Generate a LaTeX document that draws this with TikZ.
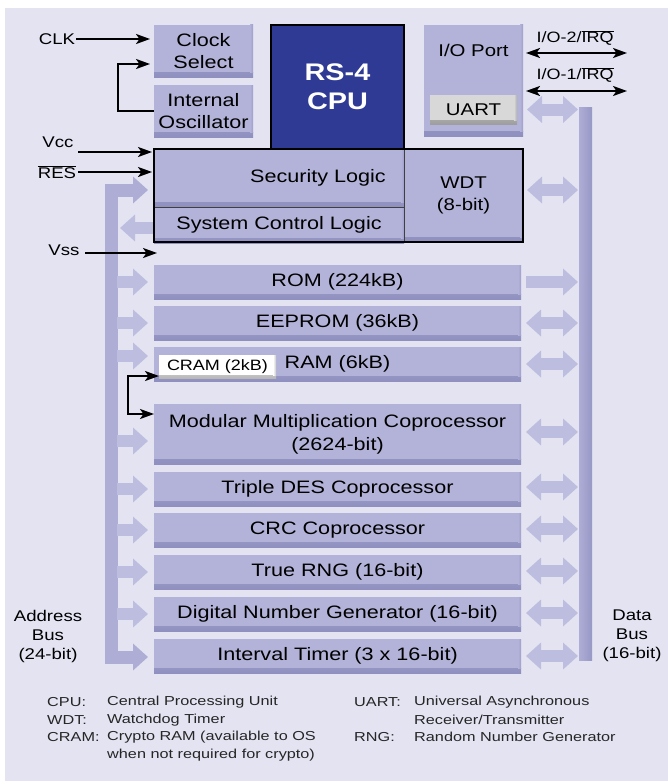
\documentclass[tikz,border=0pt]{standalone}
\usepackage{fontspec}
\setmainfont{Liberation Sans}[FakeStretch=1.2]
\newfontfamily\legendfont{Liberation Sans}[FakeStretch=1.25]
\usetikzlibrary{arrows.meta,calc}
\definecolor{bgc}{HTML}{E3E3F2}
\definecolor{blk}{HTML}{B3B3D9}
\definecolor{blkdark}{HTML}{9090C0}
\definecolor{cpuc}{HTML}{2E3A94}
\definecolor{busc}{HTML}{ADADD5}
\definecolor{busdark}{HTML}{9898C6}
\definecolor{arrc}{HTML}{BDBDDF}
\definecolor{uartc}{HTML}{D8D8D8}
\tikzset{
  box/.style={fill=blk, inner sep=0pt, outer sep=0pt, align=center, text=black,
    path picture={
      \shade[top color=blk, bottom color=blkdark] ([yshift=5pt]path picture bounding box.south west) rectangle (path picture bounding box.south east);
      \shade[left color=blk, right color=blkdark!60!blk] ([xshift=-3pt]path picture bounding box.north east) rectangle ([yshift=5pt]path picture bounding box.south east);
    }},
  greybox/.style={fill=uartc, inner sep=0pt, outer sep=0pt, align=center, text=black,
    path picture={
      \shade[top color=uartc, bottom color=black!38] ([yshift=4pt]path picture bounding box.south west) rectangle (path picture bounding box.south east);
      \shade[left color=uartc, right color=black!32] ([xshift=-3pt]path picture bounding box.north east) rectangle ([yshift=4pt]path picture bounding box.south east);
    }},
  whitebox/.style={fill=white, inner sep=0pt, outer sep=0pt, align=center, text=black,
    path picture={
      \shade[top color=white, bottom color=black!28] ([yshift=3pt]path picture bounding box.south west) rectangle (path picture bounding box.south east);
      \shade[left color=white, right color=black!22] ([xshift=-3pt]path picture bounding box.north east) rectangle ([yshift=3pt]path picture bounding box.south east);
    }},
  mtext/.style={font=\fontsize{18}{22}\selectfont},
  ntext/.style={font=\fontsize{17}{22}\selectfont},
  stext/.style={font=\fontsize{15.5}{19}\selectfont, align=center, inner sep=1pt},
  ltext/.style={font=\legendfont\fontsize{13}{16}\selectfont, anchor=west, inner sep=0pt, text=black!85},
  rowbox/.style={box, minimum width=367pt, minimum height=34pt, mtext},
  sig/.style={draw=black, line width=2pt, line join=miter, -{Stealth[length=14pt,width=10pt,inset=3.5pt]}},
  dsig/.style={draw=black, line width=2pt, line join=miter, {Stealth[length=14pt,width=10pt,inset=3.5pt]}-{Stealth[length=14pt,width=10pt,inset=3.5pt]}},
  barr/.style={draw=arrc, line width=12pt, -{Triangle[length=15pt,width=26pt]}},
  dbarr/.style={draw=arrc, line width=12pt, {Triangle[length=15pt,width=26pt]}-{Triangle[length=15pt,width=26pt]}},
}
\begin{document}
\begin{tikzpicture}[x=1pt,y=-1pt]
\useasboundingbox (0,0) rectangle (668,784);
\fill[white] (0,0) rectangle (668,784);
\fill[bgc] (5,8) rectangle (668,781);

% top blocks
\node[box, minimum width=99pt, minimum height=52pt, mtext] (clksel) at (203.5,51) {Clock\\Select};
\node[box, minimum width=99pt, minimum height=52pt, mtext] (osc) at (203.5,111) {Internal\\Oscillator};
\node[draw=black, line width=1.5pt, fill=cpuc, minimum width=133pt, minimum height=124pt, inner sep=0pt, outer sep=0pt, text=white, align=center, font=\bfseries\fontsize{24}{29}\selectfont] (cpu) at (337.5,87) {RS-4\\CPU};
\node[box, minimum width=99pt, minimum height=111pt] (io) at (473.5,80.5) {};
\node[ntext, inner sep=0pt] (iotxt) at (473.5,50) {I/O Port};
\node[greybox, minimum width=87pt, minimum height=29pt, ntext] (uart) at (473.5,109.5) {UART};

% security block
\node[box, minimum width=250pt, minimum height=58pt] (secl) at (279,178) {};
\node[mtext, inner sep=0pt] (secltxt) at (318,178) {Security Logic};
\node[box, minimum width=250pt, minimum height=36pt, mtext] (sysc) at (279,225) {System Control Logic};
\node[box, minimum width=119pt, minimum height=94pt, ntext] (wdt) at (463.5,195) {WDT\\(8-bit)};
\draw[black!75, line width=1pt] (secl.south west) -- (secl.south east);
\draw[black!75, line width=1pt] (secl.north east) -- (sysc.south east);
\draw[black, line width=2pt] (secl.north west) rectangle (wdt.south east);

% rows
\node[rowbox] (rom) at (337.5,282) {ROM (224kB)};
\node[rowbox] (eep) at (337.5,323) {EEPROM (36kB)};
\node[rowbox] (ram) at (337.5,364) {RAM (6kB)};
\node[whitebox, minimum width=117pt, minimum height=23pt, font=\fontsize{15}{18}\selectfont] (cram) at (217.5,366.5) {CRAM (2kB)};
\node[box, minimum width=367pt, minimum height=60pt, font=\fontsize{18}{23}\selectfont] (mm) at (337.5,434) {Modular Multiplication Coprocessor\\(2624-bit)};
\node[rowbox] (des) at (337.5,489) {Triple DES Coprocessor};
\node[rowbox] (crc) at (337.5,530) {CRC Coprocessor};
\node[rowbox] (rng) at (337.5,572) {True RNG (16-bit)};
\node[rowbox] (dng) at (337.5,614) {Digital Number Generator (16-bit)};
\node[rowbox] (itm) at (337.5,656) {Interval Timer (3 x 16-bit)};

% data bus
\node[left color=busc, right color=busdark, minimum width=13pt, minimum height=553pt, inner sep=0pt, outer sep=0pt] (dbus) at (585.5,383.5) {};

% address bus
\coordinate (abtop) at (111.5,190);
\coordinate (abbot) at (111.5,657);
\coordinate (abr) at (117,0);
\draw[draw=busc, line width=13pt, line join=miter, {Triangle[length=15pt,width=26pt]}-{Triangle[length=15pt,width=26pt]}, shorten <=6pt, shorten >=6pt] (secl.west |- abtop) -- (abtop) -- (abbot) -- (itm.west |- abbot);

% address arrows
\draw[barr, shorten >=6pt] (abr |- rom.west) -- (rom.west);
\draw[barr, shorten >=6pt] (abr |- eep.west) -- (eep.west);
\draw[barr, shorten >=6pt] ($(abr |- ram.west)+(0,-8)$) -- ($(ram.west)+(0,-8)$);
\draw[barr, shorten >=6pt] ($(abr |- mm.west)+(0,7)$) -- ($(mm.west)+(0,7)$);
\draw[barr, shorten >=6pt] (abr |- des.west) -- (des.west);
\draw[barr, shorten >=6pt] (abr |- crc.west) -- (crc.west);
\draw[barr, shorten >=6pt] (abr |- rng.west) -- (rng.west);
\draw[barr, shorten >=6pt] (abr |- dng.west) -- (dng.west);
\draw[barr, shorten <=1pt, shorten >=3pt] ($(sysc.west)+(0,3)$) -- ($(abr |- sysc.west)+(0,3)$);

% data arrows
\draw[dbarr, shorten <=4pt, shorten >=1pt] (uart.east -| io.east) -- (dbus.west |- uart.east);
\draw[dbarr, shorten <=4pt, shorten >=1pt] ($(wdt.east)+(0,-5)$) -- ($(dbus.west |- wdt.east)+(0,-5)$);
\draw[barr, shorten <=5pt, shorten >=1pt] (rom.east) -- (dbus.west |- rom.east);
\draw[dbarr, shorten <=5pt, shorten >=1pt] (eep.east) -- (dbus.west |- eep.east);
\draw[dbarr, shorten <=5pt, shorten >=1pt] (ram.east) -- (dbus.west |- ram.east);
\draw[dbarr, shorten <=5pt, shorten >=1pt] ($(mm.east)+(0,-2)$) -- ($(dbus.west |- mm.east)+(0,-2)$);
\draw[dbarr, shorten <=5pt, shorten >=1pt] ($(des.east)+(0,-2)$) -- ($(dbus.west |- des.east)+(0,-2)$);
\draw[dbarr, shorten <=5pt, shorten >=1pt] ($(crc.east)+(0,-1)$) -- ($(dbus.west |- crc.east)+(0,-1)$);
\draw[dbarr, shorten <=5pt, shorten >=1pt] ($(rng.east)+(0,-1)$) -- ($(dbus.west |- rng.east)+(0,-1)$);
\draw[dbarr, shorten <=5pt, shorten >=1pt] ($(dng.east)+(0,-1)$) -- ($(dbus.west |- dng.east)+(0,-1)$);
\draw[dbarr, shorten <=5pt, shorten >=1pt] (itm.east) -- (dbus.west |- itm.east);

% signals
\node[stext] (clk) at (57,39) {CLK};
\draw[sig, shorten >=4pt] (clk.east) -- (clksel.west |- clk.east);
\coordinate (oscturn) at (117.5,64);
\draw[sig, shorten >=4pt] (osc.west) -| (oscturn) -- (clksel.west |- oscturn);
\node[stext] (vcc) at (58,142) {Vcc};
\coordinate (vccS) at (78,152);
\draw[sig, shorten >=2pt] (vccS) -- (secl.west |- vccS);
\node[stext] (res) at (57,172) {$\overline{\hbox{RES}}$};
\coordinate (resS) at (78,172);
\draw[sig, shorten >=2pt] (resS) -- (secl.west |- resS);
\node[stext] (vss) at (64,250) {Vss};
\coordinate (vssS) at (85,253);
\coordinate (vssE) at (157,253);
\draw[sig] (vssS) -- (vssE);
\coordinate (crT) at (128,376);
\coordinate (crB) at (128,414);
\draw[dsig] (cram.west |- crT) -- (crT) -- (crB) -- (mm.west |- crB);

% I/O lines
\node[font=\fontsize{15}{18}\selectfont, inner sep=0pt] (io2) at (575,38) {I/O-2/$\overline{\hbox{IRQ}}$};
\node[font=\fontsize{15}{18}\selectfont, inner sep=0pt] (io1) at (575,75) {I/O-1/$\overline{\hbox{IRQ}}$};
\coordinate (io2e) at (627,53);
\coordinate (io1e) at (627,91);
\draw[dsig, shorten <=3pt] (io.east |- io2e) -- (io2e);
\draw[dsig, shorten <=3pt] (io.east |- io1e) -- (io1e);

% bus labels
\node[stext] (abl) at (48,636) {Address\\Bus\\(24-bit)};
\node[stext] (dbl) at (632,636) {Data\\Bus\\(16-bit)};

% legend
\node[ltext] (l1a) at (47,702) {CPU:};
\node[ltext] (l1b) at (107,702) {Central Processing Unit};
\node[ltext] (l2a) at (47,720) {WDT:};
\node[ltext] (l2b) at (107,720) {Watchdog Timer};
\node[ltext] (l3a) at (47,737) {CRAM:};
\node[ltext] (l3b) at (107,737) {Crypto RAM (available to OS};
\node[ltext] (l4b) at (107,755) {when not required for crypto)};
\node[ltext] (r1a) at (354,702) {UART:};
\node[ltext] (r1b) at (414,702) {Universal Asynchronous};
\node[ltext] (r2b) at (414,720) {Receiver/Transmitter};
\node[ltext] (r3a) at (354,737) {RNG:};
\node[ltext] (r3b) at (414,737) {Random Number Generator};
\end{tikzpicture}
\end{document}
